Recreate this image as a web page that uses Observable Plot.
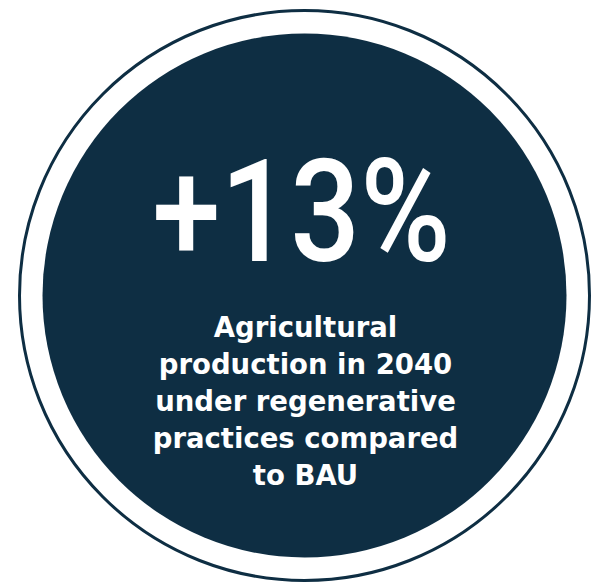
<!DOCTYPE html>
<html>
<head>
<meta charset="utf-8">
<script src="https://cdn.jsdelivr.net/npm/d3@7"></script>
<script src="https://cdn.jsdelivr.net/npm/@observablehq/plot@0.6"></script>
<style>
  html, body { margin: 0; padding: 0; background: #ffffff; }
  #chart svg { display: block; }
</style>
</head>
<body>
<div id="chart"></div>
<script>
// Data
const headline = ["+13%"];
const descriptionLines = [
  "Agricultural",
  "production in 2040",
  "under regenerative",
  "practices compared",
  "to BAU"
];
const rings = [
  {name: "outer", kind: "outline"},
  {name: "inner", kind: "fill"}
];

const navy = "#0e2e43";
const W = 594, H = 584;
const cx = 304, cy = 295;

const chart = Plot.plot({
  width: W,
  height: H,
  margin: 0,
  x: {domain: [-cx, W - cx], axis: null},
  y: {domain: [cy - H, cy], axis: null},
  marks: [
    Plot.dot(rings.filter(d => d.kind === "outline"), {
      x: () => 0, y: () => 0, r: 285, fill: "none", stroke: navy, strokeWidth: 3
    }),
    Plot.dot(rings.filter(d => d.kind === "fill"), {
      x: () => 0, y: () => 0, r: 262, fill: navy, stroke: "none"
    }),
    Plot.text(headline, {
      x: () => 0, y: () => 35, dx: -3, text: d => d,
      fill: "#ffffff", fontSize: 143, fontFamily: "Roboto", fontWeight: 500,
      lineAnchor: "bottom", textAnchor: "middle",
      className: "headline",
      style: "letter-spacing:-0.1em"
    }),
    Plot.text([descriptionLines.join("\n")], {
      x: () => 0, y: () => -189, dx: 1, text: d => d,
      fill: "#ffffff", fontSize: 27.5, fontFamily: "DejaVu Sans", fontWeight: 700,
      lineAnchor: "bottom", textAnchor: "middle", lineHeight: 37 / 27.5,
      style: "letter-spacing:0.045em"
    })
  ]
});
// condense the headline horizontally
d3.select(chart).selectAll("g.headline text").each(function () {
  const t = this.getAttribute("transform") || "";
  this.setAttribute("transform", t + " scale(0.86,1)");
});
document.getElementById("chart").append(chart);
</script>
</body>
</html>
